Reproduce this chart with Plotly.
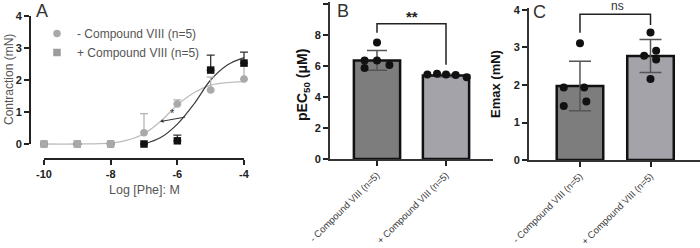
import plotly.graph_objects as go

W, H = 700, 248

# ---------------- data ----------------
conc = [-10, -9, -8, -7, -6, -5, -4]
minus_mean = [0, 0, 0, 0.35, 1.25, 1.69, 2.03]
minus_err = [0, 0, 0, 0.60, 0.13, 0.40, 0.40]
plus_mean = [0, 0, 0, 0, 0.10, 2.31, 2.53]
plus_err = [0, 0, 0, 0, 0.18, 0.47, 0.34]

minus_fit_x = [-10, -9, -8, -7.5, -7, -6.5, -6, -5.5, -5, -4.5, -4]
minus_fit_y = [0, 0, 0.03, 0.12, 0.32, 0.71, 1.22, 1.60, 1.84, 1.92, 1.95]
plus_fit_x = [-7, -6.5, -6, -5.5, -5, -4.5, -4]
plus_fit_y = [0, 0.20, 0.62, 1.25, 2.00, 2.47, 2.70]

a_xticks = [-10, -8, -6, -4]
a_yticks = [0, 1, 2, 3, 4]
b_yticks = [0, 2, 4, 6, 8, 10]
c_yticks = [0, 1, 2, 3, 4]

groups = ["- Compound VIII (n=5)", "+ Compound VIII (n=5)"]

pec50_mean = [6.36, 5.38]
pec50_sd = [0.64, 0.08]
pec50_minus = [7.52, 6.36, 6.36, 5.87, 6.06]
pec50_plus = [5.45, 5.50, 5.45, 5.42, 5.28]

emax_mean = [1.97, 2.77]
emax_sd = [0.66, 0.44]
emax_minus = [3.11, 1.93, 1.93, 1.44, 1.56]
emax_plus = [3.40, 2.78, 2.91, 2.68, 2.16]

# jitter (horizontal scatter of the individual dots)
jit_b_minus = [0, -0.18, 0, -0.18, 0.18]
jit_b_plus = [-0.27, -0.13, 0, 0.14, 0.30]
jit_c_minus = [0, -0.23, 0.06, -0.23, 0.09]
jit_c_plus = [0, -0.09, 0.08, 0.08, 0]


def px(x):
    return x / W


def py(y):
    return 1 - y / H


def bold(vals):
    return ["<b>%g</b>" % v for v in vals]


FONT = "Liberation Sans"
fig = go.Figure()

# ---------------- panel A ----------------
fig.add_trace(go.Scatter(x=minus_fit_x, y=minus_fit_y, mode="lines", line=dict(color="#bdbdbd", width=1.3, shape="spline"),
                         showlegend=False, hoverinfo="skip", xaxis="x", yaxis="y"))
fig.add_trace(go.Scatter(x=plus_fit_x, y=plus_fit_y, mode="lines", line=dict(color="#3a3a3a", width=1.2, shape="spline"),
                         showlegend=False, hoverinfo="skip", xaxis="x", yaxis="y"))
fig.add_trace(go.Scatter(x=conc, y=minus_mean, mode="markers", name=groups[0],
                         marker=dict(symbol="circle", size=7.5, color="#a9a9a9"),
                         error_y=dict(type="data", array=minus_err, arrayminus=[0] * len(conc), symmetric=False,
                                      color="#b3b3b3", thickness=1.3, width=4),
                         xaxis="x", yaxis="y"))
fig.add_trace(go.Scatter(x=conc, y=plus_mean, mode="markers", name=groups[1],
                         marker=dict(symbol="square", size=7.5, color=["#9c9c9c"] * 3 + ["#111111"] * 4),
                         error_y=dict(type="data", array=plus_err, arrayminus=[0] * len(conc), symmetric=False,
                                      color="#333333", thickness=1.3, width=4),
                         xaxis="x", yaxis="y"))
# gray circles on top of the overlapping low-concentration points
fig.add_trace(go.Scatter(x=conc[:3], y=minus_mean[:3], mode="markers", showlegend=False, hoverinfo="skip",
                         marker=dict(symbol="circle", size=7.5, color="#a9a9a9"), xaxis="x", yaxis="y"))

# ---------------- panel B ----------------
fig.add_trace(go.Bar(x=[0, 1], y=pec50_mean, width=0.67, showlegend=False,
                     marker=dict(color=["#7d7d7d", "#a3a3a9"], line=dict(color="#111", width=2.5)),
                     error_y=dict(type="data", array=pec50_sd, color="#555", thickness=1.5, width=10),
                     xaxis="x2", yaxis="y2"))
fig.add_trace(go.Scatter(x=[0 + j for j in jit_b_minus], y=pec50_minus, mode="markers", showlegend=False,
                         marker=dict(size=8, color="#111"), xaxis="x2", yaxis="y2"))
fig.add_trace(go.Scatter(x=[1 + j for j in jit_b_plus], y=pec50_plus, mode="markers", showlegend=False,
                         marker=dict(size=8, color="#111"), xaxis="x2", yaxis="y2"))

# ---------------- panel C ----------------
fig.add_trace(go.Bar(x=[0, 1], y=emax_mean, width=0.66, showlegend=False,
                     marker=dict(color=["#7d7d7d", "#a3a3a9"], line=dict(color="#111", width=2.5)),
                     error_y=dict(type="data", array=emax_sd, color="#555", thickness=1.5, width=11),
                     xaxis="x3", yaxis="y3"))
fig.add_trace(go.Scatter(x=[0 + j for j in jit_c_minus], y=emax_minus, mode="markers", showlegend=False,
                         marker=dict(size=8, color="#111"), xaxis="x3", yaxis="y3"))
fig.add_trace(go.Scatter(x=[1 + j for j in jit_c_plus], y=emax_plus, mode="markers", showlegend=False,
                         marker=dict(size=8, color="#111"), xaxis="x3", yaxis="y3"))

tickfont = dict(family=FONT, size=11, color="#222")
catfont = dict(family=FONT, size=9.5, color="#3a3a3a")

fig.update_layout(
    width=W, height=H, margin=dict(l=0, r=0, t=0, b=0, autoexpand=False),
    paper_bgcolor="white", plot_bgcolor="white",
    font=dict(family=FONT),
    showlegend=True,
    legend=dict(x=px(37), y=py(19), xanchor="left", yanchor="top", bgcolor="rgba(0,0,0,0)",
                font=dict(family=FONT, size=12, color="#555"), tracegroupgap=0, itemclick=False),
    xaxis=dict(domain=[px(30), px(248)], range=[-10.42, -3.88], tickvals=a_xticks, ticktext=bold(a_xticks),
               ticks="outside", ticklen=5, tickwidth=1.8, tickcolor="#222", tickfont=tickfont,
               showline=False, showgrid=False, zeroline=False, anchor="y", automargin=False),
    yaxis=dict(domain=[py(159), py(12)], range=[-0.46875, 4.125], tickvals=a_yticks, ticktext=bold(a_yticks),
               ticks="outside", ticklen=5, tickwidth=1.8, tickcolor="#222", tickfont=tickfont,
               showline=False, showgrid=False, zeroline=False, anchor="x", automargin=False),
    xaxis2=dict(domain=[px(330), px(493)], range=[-0.681, 1.681], tickvals=[0, 1], ticktext=groups,
                tickangle=-45, ticks="outside", ticklen=5, tickwidth=1.8, tickcolor="#222", tickfont=catfont,
                showline=True, linecolor="#333", linewidth=1.8, showgrid=False, zeroline=False, anchor="y2",
                automargin=False),
    yaxis2=dict(domain=[py(159), py(2)], range=[0, 10.129], tickvals=b_yticks, ticktext=bold(b_yticks),
                ticks="outside", ticklen=5, tickwidth=1.8, tickcolor="#222", tickfont=tickfont,
                showline=True, linecolor="#333", linewidth=1.8, showgrid=False, zeroline=False, anchor="x2",
                automargin=False),
    xaxis3=dict(domain=[px(529), px(700)], range=[-0.723, 1.702], tickvals=[0, 1], ticktext=groups,
                tickangle=-45, ticks="outside", ticklen=5, tickwidth=1.8, tickcolor="#222", tickfont=catfont,
                showline=True, linecolor="#333", linewidth=1.8, showgrid=False, zeroline=False, anchor="y3",
                automargin=False),
    yaxis3=dict(domain=[py(160), py(8)], range=[0, 4.053], tickvals=c_yticks, ticktext=bold(c_yticks),
                ticks="outside", ticklen=5, tickwidth=1.8, tickcolor="#222", tickfont=tickfont,
                showline=True, linecolor="#333", linewidth=1.8, showgrid=False, zeroline=False, anchor="x3",
                automargin=False),
)

shapes = [
    # panel A detached axis lines
    dict(type="line", xref="paper", yref="paper", x0=px(44), x1=px(244), y0=py(159), y1=py(159),
         line=dict(color="#222", width=2)),
    dict(type="line", xref="paper", yref="paper", x0=px(30), x1=px(30), y0=py(144), y1=py(16),
         line=dict(color="#222", width=2)),
    # significance brackets
    dict(type="path", xref="x2", yref="y2", path="M 0,8.15 L 0,8.73 L 1,8.73 L 1,6.08",
         line=dict(color="#222", width=1.5)),
    dict(type="path", xref="x3", yref="y3", path="M 0,3.39 L 0,3.885 L 1,3.885 L 1,3.60",
         line=dict(color="#222", width=1.5)),
]
fig.update_layout(shapes=shapes)


def pann(text, x, y, size, color, angle=0):
    return dict(text=text, x=px(x), y=py(y), xref="paper", yref="paper", showarrow=False,
                xanchor="center", yanchor="middle", textangle=angle,
                font=dict(family=FONT, size=size, color=color))


ann = [
    pann("A", 42, 11, 18, "#333"),
    pann("B", 343, 11, 18, "#333"),
    pann("C", 539, 12, 18, "#333"),
    pann("Contraction (mN)", 9, 80, 12, "#555", -90),
    pann("Log [Phe]: M", 144, 190, 12.5, "#555"),
    pann("<b>pEC<sub>50</sub> (μM)</b>", 303, 85, 14, "#111", -90),
    pann("<b>Emax (mN)</b>", 496, 84, 13, "#111", -90),
    pann("ns", 617, 6, 12, "#333"),
    dict(text="<b>**</b>", x=0.5, y=9.2, xref="x2", yref="y2", showarrow=False, xanchor="center", yanchor="middle",
         font=dict(family=FONT, size=15, color="#222")),
    dict(text="*", x=-6.15, y=0.98, xref="x", yref="y", showarrow=False, xanchor="center", yanchor="middle",
         font=dict(family=FONT, size=11, color="#333")),
    dict(text="", x=-6.52, y=0.70, ax=-5.72, ay=0.85, xref="x", yref="y", axref="x", ayref="y",
         showarrow=True, arrowhead=2, arrowsize=0.7, arrowwidth=1, arrowcolor="#333"),
]
fig.update_layout(annotations=ann)

fig.write_html("out.html")
